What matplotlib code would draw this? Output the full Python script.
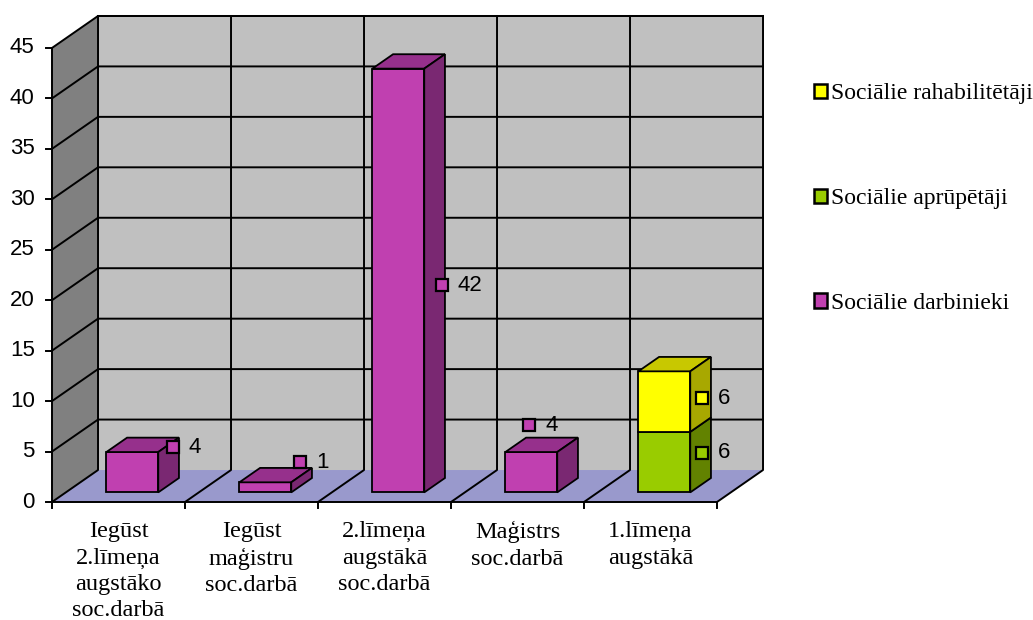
import matplotlib
matplotlib.use('Agg')
import matplotlib.pyplot as plt
from matplotlib.patches import Polygon, Patch

# data
categories = ['Iegūst\n2.līmeņa\naugstāko\nsoc.darbā',
              'Iegūst\nmaģistru\nsoc.darbā',
              '2.līmeņa\naugstākā\nsoc.darbā',
              'Maģistrs\nsoc.darbā',
              '1.līmeņa\naugstākā']
darbinieki = [4, 1, 42, 4, 0]
aprupetaji = [0, 0, 0, 0, 6]
rehabilitetaji = [0, 0, 0, 0, 6]
series_names = ['Sociālie darbinieki', 'Sociālie aprūpētāji', 'Sociālie rahabilitētāji']
yticks = list(range(0, 50, 5))

series = [darbinieki, aprupetaji, rehabilitetaji]
# front, top, side colours for each series
colors = [('#C040B0', '#96308C', '#7A2872'),
          ('#99CC00', '#7FA800', '#628200'),
          ('#FFFF00', '#C8C800', '#A8A800')]

# fake 3d: depth offset of the back wall (category units, value units)
DX, DY = 0.346, 3.17
YMAX = 45
BAR_W = 0.39
F0, F1 = 0.30, 0.75  # bar front / back depth fraction

# where Excel put the value labels (layout only)
label_x = [0.91, 0.865, 0.93, 0.59, 0.89]
label_nudge = {(0, 0): 3.45, (0, 1): 3.46, (0, 2): 0.5, (0, 3): 5.6,
               (1, 4): 1.86, (2, 4): 1.3}

fig = plt.figure(figsize=(10.33, 6.2), dpi=100)
ax = fig.add_axes([0, 0, 1, 1])
ax.set_xlim(-52 / 133, (1033 - 52) / 133)
ax.set_ylim(-118 / 10.09, 502 / 10.09)
ax.axis('off')

n = len(categories)
lw = 1.4

# walls and floor
ax.add_patch(Polygon([(DX, DY), (n + DX, DY), (n + DX, YMAX + DY), (DX, YMAX + DY)],
                     closed=True, fc='#C0C0C0', ec='none', zorder=1))
ax.add_patch(Polygon([(0, 0), (DX, DY), (DX, YMAX + DY), (0, YMAX)],
                     closed=True, fc='#808080', ec='none', zorder=1))
ax.add_patch(Polygon([(0, 0), (n, 0), (n + DX, DY), (DX, DY)],
                     closed=True, fc='#9999CC', ec='none', zorder=1))

# gridlines
for v in yticks[1:]:
    ax.plot([0, DX, n + DX], [v, v + DY, v + DY], color='black', lw=lw, zorder=2)
for k in range(n + 1):
    ax.plot([k, k + DX, k + DX], [0, DY, YMAX + DY], color='black', lw=lw, zorder=2)
ax.plot([DX, n + DX], [YMAX + DY, YMAX + DY], color='black', lw=lw, zorder=2)

# axes lines and ticks
ax.plot([0, 0], [0, YMAX], color='black', lw=lw, zorder=2)
ax.plot([0, n], [0, 0], color='black', lw=lw, zorder=2)
for v in yticks:
    ax.plot([-0.045, 0], [v, v], color='black', lw=lw, zorder=2)
    ax.text(-0.13, v, str(v), ha='right', va='center', fontsize=16,
            family='Liberation Sans')
for k in range(n + 1):
    ax.plot([k, k], [0, -0.6], color='black', lw=lw, zorder=2)
for i, cat in enumerate(categories):
    ax.text(i + 0.5, -1.9, cat, ha='center', va='top', fontsize=17.5,
            family='Liberation Serif', linespacing=1.33)

# bars
for i in range(n):
    base = 0
    x0 = i + 0.5 - BAR_W / 2
    x1 = x0 + BAR_W
    for s, vals in enumerate(series):
        v = vals[i]
        if v == 0:
            continue
        b, t = base, base + v
        fc, tc, sc = colors[s]
        fx, fy = F0 * DX, F0 * DY
        gx, gy = F1 * DX, F1 * DY
        ax.add_patch(Polygon([(x0 + fx, b + fy), (x1 + fx, b + fy), (x1 + fx, t + fy), (x0 + fx, t + fy)],
                             closed=True, fc=fc, ec='black', lw=1.3, zorder=3))
        ax.add_patch(Polygon([(x0 + fx, t + fy), (x1 + fx, t + fy), (x1 + gx, t + gy), (x0 + gx, t + gy)],
                             closed=True, fc=tc, ec='black', lw=1.3, zorder=3))
        ax.add_patch(Polygon([(x1 + fx, b + fy), (x1 + gx, b + gy), (x1 + gx, t + gy), (x1 + fx, t + fy)],
                             closed=True, fc=sc, ec='black', lw=1.3, zorder=3))
        base = t

# value labels
for i in range(n):
    base = 0
    for s, vals in enumerate(series):
        v = vals[i]
        if v == 0:
            continue
        ly = base + v / 2 + label_nudge[(s, i)]
        lx = i + label_x[i]
        ax.plot(lx, ly, 's', ms=8, mfc=colors[s][0], mec='black', mew=1.6, zorder=5)
        ax.text(lx + 0.12, ly, str(v), ha='left', va='center', fontsize=16,
                family='Liberation Sans', zorder=5)
        base += v

# legend
handles = [Patch(fc=colors[s][0], ec='black', lw=1.8, label=series_names[s]) for s in (2, 1, 0)]
fig.legend(handles=handles, loc='upper left', bbox_to_anchor=(0.767, 0.9),
           frameon=False, prop={'family': 'Liberation Serif', 'size': 17},
           labelspacing=3.55, handlelength=0.55, handleheight=0.55, handletextpad=0.2)

fig.savefig('out.png', dpi=100)
